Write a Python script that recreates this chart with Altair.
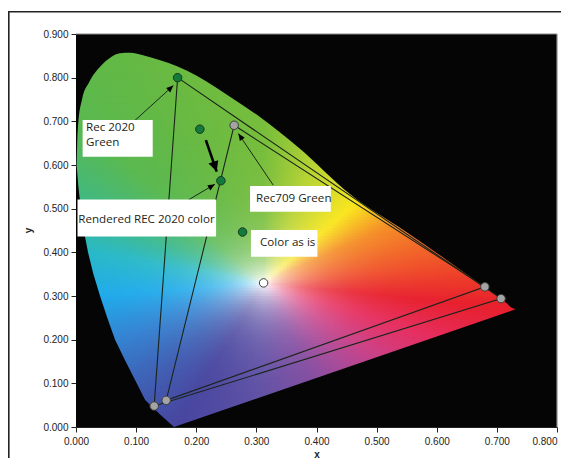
import numpy as np
import pandas as pd
import altair as alt

alt.data_transformers.disable_max_rows()

# ---------------- data ----------------
# spectral locus outline of the background image (upper and lower branches, in x order)
upper_x = [0.000, 0.001, 0.002, 0.004, 0.010, 0.022, 0.040, 0.058, 0.073, 0.090, 0.110, 0.140, 0.168,
           0.200, 0.263, 0.306, 0.370, 0.456, 0.550, 0.617, 0.707, 0.732, 0.800]
upper_y = [0.600, 0.600, 0.650, 0.700, 0.750, 0.790, 0.825, 0.847, 0.856, 0.857, 0.852, 0.840, 0.826,
           0.805, 0.750, 0.710, 0.640, 0.533, 0.446, 0.382, 0.294, 0.270, 0.270]
lower_x = [0.000, 0.001, 0.004, 0.008, 0.013, 0.020, 0.029, 0.040, 0.052, 0.065, 0.0815, 0.098, 0.115,
           0.138, 0.163, 0.732, 0.800]
lower_y = [0.600, 0.600, 0.550, 0.500, 0.450, 0.400, 0.350, 0.300, 0.250, 0.200, 0.153, 0.108, 0.062,
           0.031, 0.000, 0.270, 0.270]

# hue of the background image by direction (degrees) seen from the white point
white_xy = [0.312, 0.330]
hue_angle = [-174, -152, -131, -114, -92, -70, -55, -40, -24, -8, 8.5, 32, 50, 74, 90, 115, 130, 151, 166]
hue_r = [30, 50, 62, 72, 95, 130, 170, 205, 230, 232, 240, 245, 250, 180, 120, 100, 90, 60, 40]
hue_g = [170, 130, 95, 70, 80, 75, 70, 60, 45, 32, 80, 140, 230, 210, 190, 185, 185, 185, 185]
hue_b = [235, 210, 180, 160, 165, 160, 150, 130, 95, 45, 40, 35, 25, 50, 60, 70, 80, 140, 200]

# marked colours
pt_x = [0.169, 0.206, 0.241, 0.277, 0.263, 0.680, 0.707, 0.150, 0.130, 0.312]
pt_y = [0.800, 0.682, 0.564, 0.4465, 0.691, 0.321, 0.294, 0.061, 0.048, 0.330]
pt_kind = ["green", "green", "green", "green", "gamut", "gamut", "gamut", "gamut", "gamut", "white"]

# gamut triangles (closed)
gam_name = ["rec2020"] * 4 + ["p3"] * 4
gam_x = [0.169, 0.707, 0.130, 0.169, 0.263, 0.680, 0.150, 0.263]
gam_y = [0.800, 0.294, 0.048, 0.800, 0.691, 0.321, 0.061, 0.691]

# annotation arrows (tail -> tip)
arr_x1 = [0.098, 0.187, 0.328, 0.216]
arr_y1 = [0.702, 0.520, 0.554, 0.657]
arr_x2 = [0.162, 0.231, 0.270, 0.234]
arr_y2 = [0.782, 0.556, 0.672, 0.585]
arr_kind = ["thin", "thin", "thin", "thick"]

# label boxes and texts
box_x1 = [0.011, 0.0025, 0.2895, 0.291]
box_x2 = [0.1276, 0.233, 0.4238, 0.4015]
box_y1 = [0.619, 0.436, 0.493, 0.390]
box_y2 = [0.703, 0.521, 0.552, 0.451]
lab_text = ["Rec 2020", "Green", "Rendered REC 2020 color", "Rec709 Green", "Color as is"]
lab_x = [0.0166, 0.0166, 0.0038, 0.2995, 0.306]
lab_y = [0.677, 0.644, 0.4665, 0.5145, 0.415]

x_ticks = [0.0, 0.1, 0.2, 0.3, 0.4, 0.5, 0.6, 0.7, 0.8]
y_ticks = [0.0, 0.1, 0.2, 0.3, 0.4, 0.5, 0.6, 0.7, 0.8, 0.9]

# ---------------- derived background raster ----------------
W, H = 481, 393
KX, KY = W / 0.8, H / 0.9
SX, SY = 0.005, 0.006

poly_x = np.array(upper_x[1:-1] + lower_x[1:-2][::-1])
poly_y = np.array(upper_y[1:-1] + lower_y[1:-2][::-1])


def inside_poly(px, py, vx, vy):
    res = np.zeros(px.shape, bool)
    j = len(vx) - 1
    for i in range(len(vx)):
        xi, yi, xj, yj = vx[i], vy[i], vx[j], vy[j]
        cond = ((yi > py) != (yj > py)) & (px < (xj - xi) * (py - yi) / (yj - yi + 1e-12) + xi)
        res ^= cond
        j = i
    return res


gx0 = np.arange(0, 0.745, SX)
gy0 = np.arange(0, 0.87, SY)
GX, GY = np.meshgrid(gx0 + SX / 2, gy0 + SY / 2)
ins = inside_poly(GX, GY, poly_x, poly_y)
keep = ins.copy()
for _ in range(2):
    k = keep.copy()
    k[1:, :] |= keep[:-1, :]
    k[:-1, :] |= keep[1:, :]
    k[:, 1:] |= keep[:, :-1]
    k[:, :-1] |= keep[:, 1:]
    keep = k

ang = np.degrees(np.arctan2(GY - white_xy[1], GX - white_xy[0]))
a_ext = np.array([hue_angle[-1] - 360] + hue_angle + [hue_angle[0] + 360])


def ext(v):
    return np.array([v[-1]] + v + [v[0]], float)


hr = np.interp(ang, a_ext, ext(hue_r))
hg = np.interp(ang, a_ext, ext(hue_g))
hb = np.interp(ang, a_ext, ext(hue_b))
dist = np.hypot(GX - white_xy[0], GY - white_xy[1])
f = 1 - np.exp(-dist / 0.065)
R = 255 * (1 - f) + hr * f
G = 255 * (1 - f) + hg * f
B = 255 * (1 - f) + hb * f

sel = keep
cells = pd.DataFrame({
    "x": (GX - SX / 2)[sel],
    "x2": (GX + SX * 0.8)[sel],
    "y": (GY - SY / 2)[sel],
    "y2": (GY + SY * 0.8)[sel],
})
cells["c"] = ["#%02x%02x%02x" % (int(r), int(g), int(b)) for r, g, b in zip(R[sel], G[sel], B[sel])]

# ---------------- chart ----------------
FONT_AX = "Liberation Sans"
FONT_LAB = "Open Sans"

xscale = alt.Scale(domain=[0, 0.8], nice=False, zero=False)
yscale = alt.Scale(domain=[0, 0.9], nice=False, zero=False)
xaxis = alt.Axis(values=x_ticks, format=".3f", title="x", grid=False, tickSize=5, labelPadding=4,
                 labelFont=FONT_AX, labelFontSize=10, labelColor="#222", tickColor="#222",
                 domainColor="#222", titleFont=FONT_AX, titleFontSize=10, titleFontWeight="bold",
                 titleColor="#222", titleY=30, titleBaseline="alphabetic", labelFlush=False,
                 labelAlign={"expr": "datum.value >= 0.79 ? 'right' : 'center'"})
yaxis = alt.Axis(values=y_ticks, format=".3f", title="y", grid=False, tickSize=5, labelPadding=3,
                 labelFont=FONT_AX, labelFontSize=10, labelColor="#222", tickColor="#222",
                 domainColor="#222", titleFont=FONT_AX, titleFontSize=10, titleFontWeight="bold",
                 titleColor="#222", titleX=-45, titleY=196, titleBaseline="alphabetic", titleAngle=270)


def X(field):
    return alt.X(field, type="quantitative", scale=xscale, axis=xaxis)


def Y(field):
    return alt.Y(field, type="quantitative", scale=yscale, axis=yaxis)


bg = alt.Chart(cells).mark_rect(strokeWidth=0).encode(
    x=X("x"), x2="x2", y=Y("y"), y2="y2", color=alt.Color("c:N", scale=None))

mask_top = alt.Chart(pd.DataFrame({"x": upper_x, "y": upper_y})).mark_area(
    color="#050505", interpolate="monotone").encode(x=X("x"), y=Y("y"), y2=alt.datum(0.9))
mask_bot = alt.Chart(pd.DataFrame({"x": lower_x, "y": lower_y})).mark_area(
    color="#050505", interpolate="linear").encode(x=X("x"), y=Y("y"), y2=alt.datum(0.0))

border = alt.Chart(pd.DataFrame({"x": [0.0, 0.8], "y": [0.9, 0.9], "x2": [0.8, 0.8], "y2": [0.9, 0.0]})).mark_rule(
    color="#8a8a8a", strokeWidth=1.2).encode(x=X("x"), y=Y("y"), x2="x2", y2="y2")

gdf = pd.DataFrame({"g": gam_name, "x": gam_x, "y": gam_y, "o": list(range(len(gam_x)))})
gam = alt.Chart(gdf).mark_line(color="#1a241a", strokeWidth=1.1).encode(
    x=X("x"), y=Y("y"), detail="g:N", order="o:Q")

adf = pd.DataFrame({"x": arr_x1, "y": arr_y1, "x2": arr_x2, "y2": arr_y2, "k": arr_kind})
adf["ang"] = (np.degrees(np.arctan2((adf.x2 - adf.x) * KX, (adf.y2 - adf.y) * KY)) + 360) % 360
shaft_thin = alt.Chart(adf[adf.k == "thin"]).mark_rule(color="#1a2a1a", strokeWidth=1).encode(
    x=X("x"), y=Y("y"), x2="x2", y2="y2")
shaft_thick = alt.Chart(adf[adf.k == "thick"]).mark_rule(color="#000", strokeWidth=2.6).encode(
    x=X("x"), y=Y("y"), x2="x2", y2="y2")
head_path = "M0,0L-0.42,1L0.42,1Z"
head_thin = alt.Chart(adf[adf.k == "thin"]).mark_point(
    shape=head_path, filled=True, color="#000", size=200, opacity=1).encode(
    x=X("x2"), y=Y("y2"), angle=alt.Angle("ang:Q", scale=None))
head_thick = alt.Chart(adf[adf.k == "thick"]).mark_point(
    shape="M0,0L-0.5,1L0.5,1Z", filled=True, color="#000", size=420, opacity=1).encode(
    x=X("x2"), y=Y("y2"), angle=alt.Angle("ang:Q", scale=None))

pdf = pd.DataFrame({"x": pt_x, "y": pt_y, "k": pt_kind})
pts = alt.Chart(pdf).mark_point(filled=True, size=72, strokeWidth=1, opacity=1, shape="circle").encode(
    x=X("x"), y=Y("y"),
    fill=alt.Fill("k:N", scale=alt.Scale(domain=["green", "gamut", "white"],
                                         range=["#137a3c", "#a4a4a4", "#ffffff"]), legend=None),
    stroke=alt.Stroke("k:N", scale=alt.Scale(domain=["green", "gamut", "white"],
                                             range=["#173a20", "#3c3c3c", "#3c3c3c"]), legend=None))

bdf = pd.DataFrame({"x": box_x1, "x2": box_x2, "y": box_y1, "y2": box_y2})
boxes = alt.Chart(bdf).mark_rect(color="#ffffff").encode(x=X("x"), x2="x2", y=Y("y"), y2="y2")

ldf = pd.DataFrame({"x": lab_x, "y": lab_y, "t": lab_text})
labels = alt.Chart(ldf).mark_text(align="left", baseline="alphabetic", font=FONT_LAB, fontSize=11.6,
                                  color="#231f20").encode(x=X("x"), y=Y("y"), text="t:N")

frame = alt.Chart(pd.DataFrame({"a": [0]})).mark_rule(color="#222", strokeWidth=1.6).encode(
    x=alt.value(-67.2), y=alt.value(-22.3), y2=alt.value(440))
frame_top = alt.Chart(pd.DataFrame({"a": [0]})).mark_rule(color="#222", strokeWidth=1.6).encode(
    x=alt.value(-68), x2=alt.value(500), y=alt.value(-22.3))

chart = alt.layer(bg, mask_top, mask_bot, border, gam, shaft_thin, shaft_thick, head_thin, head_thick,
                  pts, boxes, labels, frame, frame_top).properties(
    width=W, height=H, autosize=alt.AutoSizeParams(type="none"),
    padding={"left": 68, "top": 26, "right": 4, "bottom": 31},
    background="#ffffff",
).configure_view(fill="#050505", stroke=None)

chart.save("out.html", embed_options={"renderer": "svg", "actions": False})
